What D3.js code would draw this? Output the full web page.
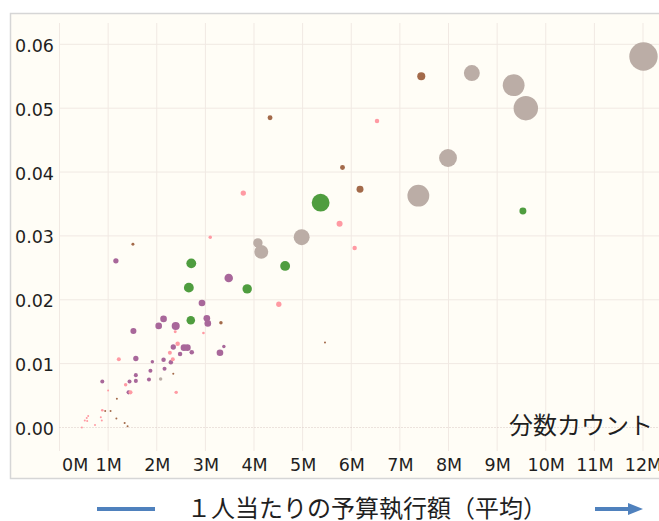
<!DOCTYPE html>
<html>
<head>
<meta charset="utf-8">
<script src="https://cdn.jsdelivr.net/npm/d3@7"></script>
<style>
  body { margin: 0; background: #fff; }
  text { font-family: "DejaVu Sans", sans-serif; fill: #1f1f1f; }
  .jp { font-family: "Noto Sans CJK JP", sans-serif; }
</style>
</head>
<body>
<div id="chart"></div>
<script>
// values: x in millions, y as a share
const xValues = [12.01, 8.48, 9.34, 9.59, 7.99, 7.38, 7.44, 9.53, 5.82, 6.18,
  3.78, 5.37, 5.76, 4.98, 3.10, 6.07, 4.08, 4.15, 4.64, 3.48,
  3.86, 4.51, 2.93, 3.03, 3.05, 3.32, 2.96, 3.38, 5.46, 1.51,
  1.16, 2.71, 2.66, 2.70, 2.14, 2.04, 2.39, 2.38, 1.52, 2.34,
  2.43, 2.56, 2.63, 2.72, 2.48, 2.27, 3.30, 1.57, 1.22, 1.91,
  2.14, 1.87, 2.33, 2.16, 2.29, 1.57, 1.57, 1.44, 1.84, 2.08,
  2.34, 0.88, 1.36, 1.42, 1.46, 2.40, 1.00, 1.18, 0.88, 0.94,
  1.05, 1.17, 0.59, 0.56, 0.52, 0.57, 0.85, 0.87, 0.73, 0.46,
  1.34, 1.40, 6.53, 4.33];
const yValues = [0.0581, 0.0555, 0.0536, 0.0500, 0.0422, 0.0363, 0.0550, 0.0339, 0.0407, 0.0373,
  0.0367, 0.0352, 0.0319, 0.0298, 0.0298, 0.0281, 0.0289, 0.0275, 0.0253, 0.0234,
  0.0217, 0.0193, 0.0195, 0.0171, 0.0163, 0.0164, 0.0148, 0.0127, 0.0133, 0.0287,
  0.0261, 0.0257, 0.0219, 0.0168, 0.0170, 0.0159, 0.0159, 0.0150, 0.0151, 0.0126,
  0.0131, 0.0125, 0.0125, 0.0118, 0.0115, 0.0117, 0.0117, 0.0108, 0.0107, 0.0103,
  0.0106, 0.0089, 0.0107, 0.0092, 0.0102, 0.0082, 0.0073, 0.0072, 0.0075, 0.0076,
  0.0084, 0.0072, 0.0067, 0.0055, 0.0055, 0.0055, 0.0058, 0.0045, 0.0027, 0.0026,
  0.0026, 0.0014, 0.0018, 0.0015, 0.0011, 0.0010, 0.0016, 0.0011, 0.0004, 0.0000,
  0.0007, 0.0002, 0.0480, 0.0485];
const sizes = [200, 63, 118, 148, 79, 118, 16, 12, 6, 12,
  7, 79, 9, 63, 3, 5, 22, 48, 24, 18,
  22, 7, 11, 11, 11, 3, 1.7, 3, 1, 2.2,
  7, 24, 24, 18, 11, 11, 16, 2.2, 9, 7,
  5, 11, 11, 5, 5, 4, 11, 7, 4, 3,
  5, 4, 4, 4, 5, 4, 4, 4, 4, 3,
  1, 4, 3, 4, 4, 3, 1, 1, 1.7, 1,
  1, 1, 1, 1, 1, 1, 1, 1, 1, 1,
  1, 1, 5, 6];
const groups = ["gray", "gray", "gray", "gray", "gray", "gray", "brown", "green", "brown", "brown",
  "pink", "green", "pink", "gray", "pink", "pink", "gray", "gray", "green", "purple",
  "green", "pink", "purple", "purple", "purple", "brown", "pink", "purple", "brown", "brown",
  "purple", "green", "green", "green", "purple", "purple", "purple", "pink", "purple", "purple",
  "pink", "purple", "purple", "purple", "purple", "pink", "purple", "purple", "pink", "purple",
  "purple", "purple", "pink", "purple", "purple", "purple", "purple", "purple", "purple", "gray",
  "brown", "purple", "pink", "purple", "pink", "pink", "pink", "brown", "pink", "brown",
  "brown", "brown", "pink", "pink", "pink", "pink", "pink", "pink", "pink", "pink",
  "brown", "brown", "pink", "brown"];
const xTicks = [0, 1, 2, 3, 4, 5, 6, 7, 8, 9, 10, 11, 12];
const yTicks = [0, 0.01, 0.02, 0.03, 0.04, 0.05, 0.06];

const groupNames = ["gray", "brown", "green", "pink", "purple"];
const groupColors = ["#bbada6", "#a36a4a", "#4f9d3f", "#ff9aa3", "#a8679a"];

const points = xValues.map((x, i) => ({ x: x, y: yValues[i], s: sizes[i], g: groups[i] }));

const width = 659, height = 521;
const svg = d3.select("#chart").append("svg")
  .attr("width", width).attr("height", height);

// panel background and frame
svg.append("rect")
  .attr("x", 10.5).attr("y", 13.5)
  .attr("width", 660).attr("height", 465)
  .attr("fill", "#fffdf6")
  .attr("stroke", "#d6d6d6").attr("stroke-width", 1.5);

const x = d3.scaleLinear().domain([0, 12]).range([59.5, 643]);
const y = d3.scaleLinear().domain([0, 0.06]).range([427.5, 44.3]);
const r = d3.scaleSqrt().domain([0, 200]).range([0, 14.2]);
const color = d3.scaleOrdinal().domain(groupNames).range(groupColors);

const grid = svg.append("g");
grid.selectAll("line.v").data(xTicks).join("line")
  .attr("class", "v")
  .attr("x1", d => x(d)).attr("x2", d => x(d))
  .attr("y1", 23).attr("y2", 451)
  .attr("stroke", "#f1e9e3").attr("stroke-width", 1);
grid.selectAll("line.h").data(yTicks.filter(d => d > 0)).join("line")
  .attr("class", "h")
  .attr("x1", 59.5).attr("x2", 659)
  .attr("y1", d => y(d)).attr("y2", d => y(d))
  .attr("stroke", "#f1e9e3").attr("stroke-width", 1);
grid.append("line")
  .attr("x1", 59.5).attr("x2", 659)
  .attr("y1", y(0)).attr("y2", y(0))
  .attr("stroke", "#d9c9c4").attr("stroke-width", 1)
  .attr("stroke-dasharray", "1,2");

// y axis labels
const yAxis = svg.append("g")
  .attr("transform", "translate(54,0)")
  .call(d3.axisLeft(y).tickValues(yTicks).tickFormat(d3.format(".2f")).tickSize(0).tickPadding(0));
yAxis.select(".domain").remove();
yAxis.selectAll("text")
  .attr("font-size", 17.5)
  .attr("font-family", "DejaVu Sans, sans-serif")
  .attr("fill", "#1f1f1f")
  .attr("dy", "0.4em");

// x axis labels
const xAxis = svg.append("g")
  .attr("transform", "translate(0,459)")
  .call(d3.axisBottom(x).tickValues(xTicks).tickFormat(d => d + "M").tickSize(0).tickPadding(0));
xAxis.select(".domain").remove();
xAxis.selectAll("text")
  .attr("font-size", 17.5)
  .attr("font-family", "DejaVu Sans, sans-serif")
  .attr("fill", "#1f1f1f")
  .attr("dy", "0.7em");
// the first label is pushed inside the pane
xAxis.selectAll("text").filter(d => d === 0).attr("text-anchor", "start").attr("dx", 2);

// bubbles, big ones first so the small stay visible
svg.append("g").selectAll("circle")
  .data(points.slice().sort((a, b) => b.s - a.s))
  .join("circle")
  .attr("cx", d => x(d.x))
  .attr("cy", d => y(d.y))
  .attr("r", d => r(d.s))
  .attr("fill", d => color(d.g));

svg.append("text").attr("class", "jp")
  .attr("x", 653).attr("y", 434)
  .attr("text-anchor", "end")
  .attr("font-size", 24)
  .text("分数カウント");

// bottom caption with the blue marks
svg.append("line")
  .attr("x1", 97).attr("x2", 155).attr("y1", 509).attr("y2", 509)
  .attr("stroke", "#4f81bd").attr("stroke-width", 4);
svg.append("line")
  .attr("x1", 595).attr("x2", 630).attr("y1", 509).attr("y2", 509)
  .attr("stroke", "#4f81bd").attr("stroke-width", 4);
svg.append("path")
  .attr("d", "M628,503 L643,509 L628,515 Z")
  .attr("fill", "#4f81bd");

svg.append("text").attr("class", "jp")
  .attr("x", 367).attr("y", 517)
  .attr("text-anchor", "middle")
  .attr("font-size", 24)
  .text("１人当たりの予算執行額（平均）");
</script>
</body>
</html>
